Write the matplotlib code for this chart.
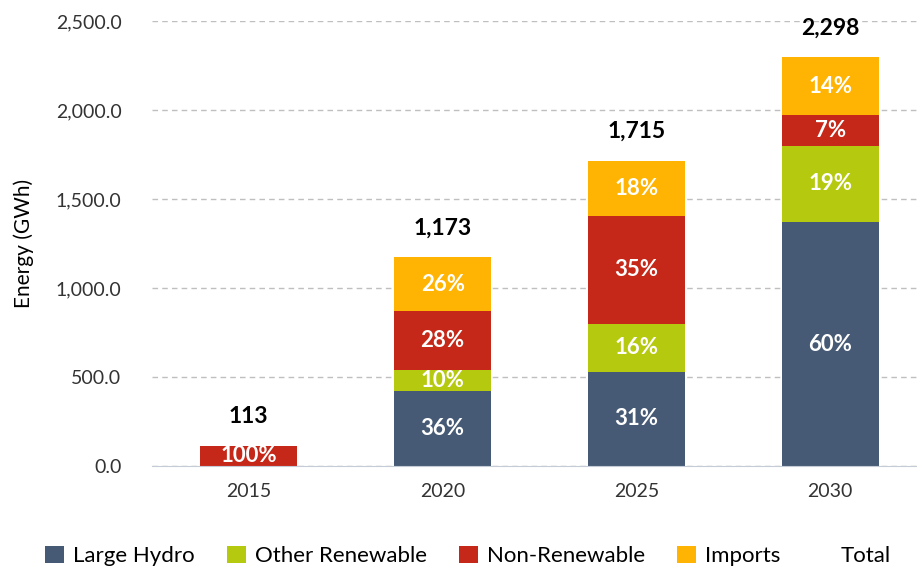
import numpy as np
import matplotlib.pyplot as plt
from matplotlib.patches import Patch

plt.rcParams['font.family'] = ['Lato', 'DejaVu Sans']
plt.rcParams['font.size'] = 13

# data (GWh)
years = ['2015', '2020', '2025', '2030']
large_hydro = [0, 422, 530, 1370]
other_renewable = [0, 118, 270, 430]
non_renewable = [113, 328, 605, 170]
imports = [0, 305, 310, 328]

series = [
    ('Large Hydro', large_hydro, '#475A75'),
    ('Other Renewable', other_renewable, '#B5C90F'),
    ('Non-Renewable', non_renewable, '#C52718'),
    ('Imports', imports, '#FFB302'),
]
totals = np.sum([s[1] for s in series], axis=0)

fig = plt.figure(figsize=(9.17, 5.72), dpi=100)
ax = fig.add_axes([152 / 917, 106 / 572, 775 / 917, 445 / 572])

x = np.arange(len(years))
bottom = np.zeros(len(years))
for name, vals, color in series:
    vals = np.array(vals, dtype=float)
    ax.bar(x, vals, width=0.5, bottom=bottom, color=color, zorder=3)
    for xi, v, b, t in zip(x, vals, bottom, totals):
        if v > 0:
            ax.text(xi, b + v / 2, f'{v / t * 100:.0f}%', ha='center', va='center',
                    color='white', fontsize=16, fontweight='bold', zorder=4)
    bottom += vals

for xi, t in zip(x, totals):
    ax.annotate(f'{t:,.0f}', (xi, t), xytext=(0, 21), textcoords='offset points',
                ha='center', va='center', fontsize=16.5, fontweight='bold')

ax.set_xlim(-0.5, len(years) - 0.5)
ax.set_ylim(0, 2500)
ax.set_yticks(np.arange(0, 2501, 500))
ax.set_yticklabels([f'{v:,.1f}' for v in np.arange(0, 2501, 500)], fontsize=14, color='#333333')
ax.set_xticks(x)
ax.set_xticklabels(years, fontsize=14, color='#333333')
ax.tick_params(axis='both', length=0)
ax.tick_params(axis='y', pad=22)
ax.tick_params(axis='x', pad=12)
ax.yaxis.grid(True, linestyle=(0, (4, 3)), color='#BFBFBF', linewidth=1, zorder=0)
for sp in ['top', 'right', 'left']:
    ax.spines[sp].set_visible(False)
ax.spines['bottom'].set_color('#C5CCD8')
ax.spines['bottom'].set_zorder(5)
ax.set_ylabel('Energy (GWh)', fontsize=15)
ax.yaxis.set_label_coords(-118 / 775, 0.5)

handles = [Patch(facecolor=c, label=n) for n, _, c in series]
handles.append(Patch(facecolor='none', edgecolor='none', label='Total'))
fig.legend(handles=handles, loc='center', bbox_to_anchor=(468 / 917, 16 / 572), ncol=5,
           frameon=False, fontsize=16, handlelength=0.85, handleheight=0.85,
           handletextpad=0.4, columnspacing=1.45)

fig.savefig('out.png', dpi=100)
